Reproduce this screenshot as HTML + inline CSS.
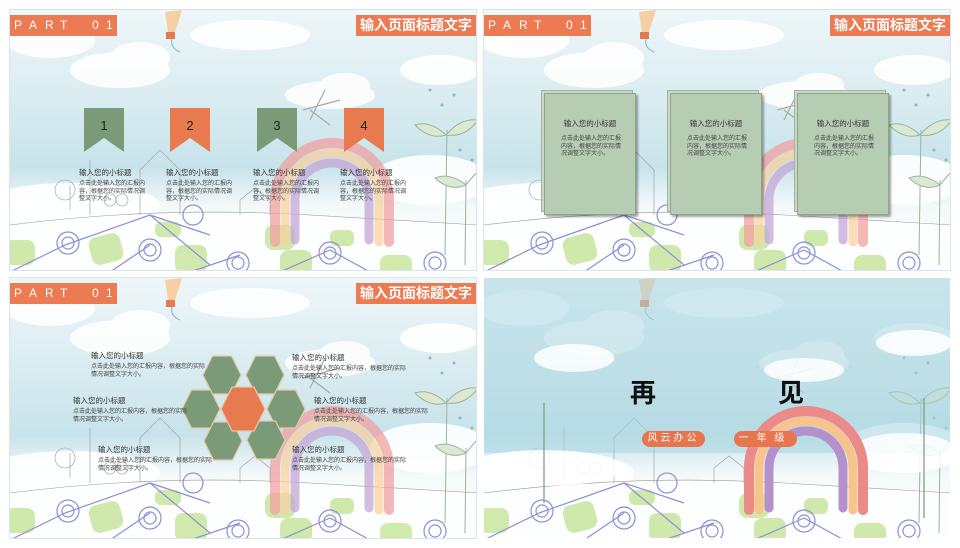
<!DOCTYPE html>
<html><head><meta charset="utf-8"><style>
*{margin:0;padding:0;box-sizing:border-box}
body{width:960px;height:548px;background:#fff;position:relative;overflow:hidden;font-family:"Liberation Sans","Noto Sans CJK SC",sans-serif}
.p{position:absolute;width:468px;height:262px;overflow:hidden;border:1px solid #d8e6ea}
.p svg.bg{position:absolute;left:0;top:0}
.a{position:absolute}
.part{left:0;top:5px;width:107px;height:21px;background:#ec7a52;color:#fff;font-size:12px;line-height:21px;white-space:nowrap}
.part span{position:absolute;top:0}
.tt{right:0;top:5px;width:120px;height:21px;background:#ec7a52;color:#fff;font-size:14px;font-weight:bold;line-height:21px;text-align:center}
.st{font-size:7.5px;color:#333;white-space:nowrap}
.bd{font-size:6px;color:#444;line-height:7.5px}
.card{position:absolute;width:92px;height:122px;background:#b6cdb4;border:1px solid #8da68b;box-shadow:2px 2px 2px rgba(0,0,0,.35)}
.card2{position:absolute;width:92px;height:122px;background:#c9d9c6;border:1px solid #9fb59c}
.card .st{position:absolute;left:0;right:0;top:24px;text-align:center}
.card .bd{position:absolute;left:16px;right:10px;top:42px}
.pill{position:absolute;height:16px;background:#e7764e;color:#fff;border-radius:8px;font-size:10px;line-height:16px;text-align:center;letter-spacing:3px}
</style></head><body>
<svg width="0" height="0" style="position:absolute">
<defs>
<linearGradient id="sky" x1="0" y1="0" x2="0" y2="1">
<stop offset="0" stop-color="#eef6f8"/><stop offset=".35" stop-color="#d9ecf1"/><stop offset=".6" stop-color="#c7e3ea"/><stop offset=".75" stop-color="#f4f9fa"/><stop offset="1" stop-color="#fbfdfd"/>
</linearGradient>
<g id="bg">
<rect width="468" height="262" fill="url(#sky)"/>
<g fill="#fff" opacity=".9">
<ellipse cx="110" cy="60" rx="50" ry="18"/><ellipse cx="130" cy="48" rx="30" ry="16"/>
<ellipse cx="320" cy="85" rx="45" ry="14"/><ellipse cx="335" cy="75" rx="25" ry="12"/>
<ellipse cx="430" cy="60" rx="40" ry="15"/><ellipse cx="40" cy="30" rx="45" ry="18"/>
<ellipse cx="240" cy="25" rx="60" ry="15"/>
<ellipse cx="60" cy="195" rx="90" ry="22"/><ellipse cx="420" cy="170" rx="60" ry="25"/>
</g>
<path d="M0 215 Q150 196 300 205 T468 215 L468 262 L0 262Z" fill="#fdfefe"/>
<path d="M0 215 Q150 196 300 205 T468 215" fill="none" stroke="#999" stroke-width=".6"/>
<g fill="#c8e6a0" opacity=".85">
<rect x="-5" y="230" width="30" height="25" rx="8"/><rect x="80" y="225" width="32" height="28" rx="8" transform="rotate(-15 96 239)"/>
<rect x="165" y="235" width="32" height="28" rx="8"/><rect x="255" y="215" width="30" height="25" rx="8"/>
<rect x="270" y="240" width="32" height="25" rx="8"/><rect x="370" y="245" width="32" height="25" rx="8"/>
<rect x="145" y="212" width="26" height="15" rx="6"/><rect x="320" y="220" width="24" height="16" rx="6"/>
</g>
<g fill="none" stroke="#8e8ed6" stroke-width="1.2">
<path d="M55 235 L0 262 M55 235 L140 205 M140 205 L200 255 M140 205 L200 225 M230 245 L180 262 M320 240 L270 262 M320 240 L360 262 M140 235 L100 262"/>
<circle cx="58" cy="233" r="11"/><circle cx="58" cy="233" r="6"/>
<circle cx="140" cy="240" r="11"/><circle cx="140" cy="240" r="6"/>
<circle cx="228" cy="253" r="11"/><circle cx="228" cy="253" r="6"/>
<circle cx="320" cy="243" r="11"/><circle cx="320" cy="243" r="6"/>
<circle cx="425" cy="253" r="11"/><circle cx="425" cy="253" r="6"/>
<circle cx="183" cy="205" r="10"/>
</g>
<g fill="none" stroke-linecap="round">
<path d="M265 232 L265 190 A57 57 0 0 1 379 190 L379 232" stroke="#f0a0a0" stroke-width="10" opacity=".75"/>
<path d="M275 232 L275 190 A47 47 0 0 1 369 190 L369 232" stroke="#f8d0a0" stroke-width="9" opacity=".75"/>
<path d="M285 230 L285 190 A37 37 0 0 1 359 190 L359 230" stroke="#c5a6d6" stroke-width="9" opacity=".75"/>
</g>
<g fill="none" stroke="#9bb49a" stroke-width="1">
<path d="M435 245 L437 120 M455 255 L456 170"/>
<path d="M436 125 Q420 110 405 115 Q420 130 436 125 Q450 108 468 110 Q455 128 436 125" fill="#dbe9d2"/>
<path d="M456 175 Q440 162 425 168 Q440 182 456 175 Q468 160 468 162" fill="#dbe9d2"/>
</g>
<g fill="#8fb3c0"><circle cx="420" cy="80" r="1.5"/><circle cx="432" cy="95" r="1.5"/><circle cx="444" cy="85" r="1.5"/><circle cx="450" cy="140" r="1.5"/><circle cx="462" cy="150" r="1.5"/></g>
<g fill="none" stroke="#999" stroke-width=".6">
<path d="M60 200 L60 175 M80 205 L80 150 M130 205 L130 160 L150 140 L170 160 L170 205"/>
<circle cx="55" cy="180" r="10"/><circle cx="100" cy="190" r="6"/><circle cx="112" cy="190" r="6"/>
<path d="M230 205 L230 190 L245 178 L260 190 L260 205"/>
<path d="M293 100 L330 90 M300 110 L315 80 M300 100 L320 115" stroke="#aaa" stroke-width="1.2"/>
</g>
<path d="M155 2 L172 0 L165 22 L158 22Z" fill="#f6cfa5"/><rect x="156" y="22" width="9" height="7" fill="#e47a50"/>
<path d="M162 29 Q160 38 170 42" fill="none" stroke="#7fb8c0"/>
</g>
</defs></svg>

<!-- Panel 1 -->
<div class="p" style="left:9px;top:9px">
<svg class="bg" width="468" height="262"><use href="#bg"/></svg>
<div class="a part"><span style="left:4px">P</span><span style="left:19px">A</span><span style="left:35px">R</span><span style="left:50px">T</span><span style="left:82px">0</span><span style="left:96px">1</span></div>
<div class="a tt">输入页面标题文字</div>
<svg class="a" style="left:0;top:0" width="468" height="262">
<path d="M74 98 H114 V142 L94 128 L74 142Z" fill="#7a9a78"/>
<path d="M160 98 H200 V142 L180 128 L160 142Z" fill="#e87a50"/>
<path d="M247 98 H287 V142 L267 128 L247 142Z" fill="#7a9a78"/>
<path d="M334 98 H374 V142 L354 128 L334 142Z" fill="#e87a50"/>
<g font-family="Liberation Sans,sans-serif" font-size="13" fill="#222" text-anchor="middle">
<text x="94" y="120">1</text><text x="180" y="120">2</text><text x="267" y="120">3</text><text x="354" y="120">4</text></g>
</svg>
<div class="a st" style="left:69px;top:157px">输入您的小标题</div>
<div class="a bd" style="left:69px;top:171px;width:66px">点击此处输入您的汇报内容，根据您的实际情况调整文字大小。</div>
<div class="a st" style="left:156px;top:157px">输入您的小标题</div>
<div class="a bd" style="left:156px;top:171px;width:66px">点击此处输入您的汇报内容，根据您的实际情况调整文字大小。</div>
<div class="a st" style="left:243px;top:157px">输入您的小标题</div>
<div class="a bd" style="left:243px;top:171px;width:66px">点击此处输入您的汇报内容，根据您的实际情况调整文字大小。</div>
<div class="a st" style="left:330px;top:157px">输入您的小标题</div>
<div class="a bd" style="left:330px;top:171px;width:66px">点击此处输入您的汇报内容，根据您的实际情况调整文字大小。</div>
</div>

<!-- Panel 2 -->
<div class="p" style="left:483px;top:9px">
<svg class="bg" width="468" height="262"><use href="#bg"/></svg>
<div class="a part"><span style="left:4px">P</span><span style="left:19px">A</span><span style="left:35px">R</span><span style="left:50px">T</span><span style="left:82px">0</span><span style="left:96px">1</span></div>
<div class="a tt">输入页面标题文字</div>
<div class="card2" style="left:57px;top:80px"></div><div class="card" style="left:60px;top:83px"><div class="st">输入您的小标题</div><div class="bd">点击此处输入您的汇报内容，根据您的实际情况调整文字大小。</div></div>
<div class="card2" style="left:183px;top:80px"></div><div class="card" style="left:186px;top:83px"><div class="st">输入您的小标题</div><div class="bd">点击此处输入您的汇报内容，根据您的实际情况调整文字大小。</div></div>
<div class="card2" style="left:310px;top:80px"></div><div class="card" style="left:313px;top:83px"><div class="st">输入您的小标题</div><div class="bd">点击此处输入您的汇报内容，根据您的实际情况调整文字大小。</div></div>
</div>

<!-- Panel 3 -->
<div class="p" style="left:9px;top:277px">
<svg class="bg" width="468" height="262"><use href="#bg"/></svg>
<div class="a part"><span style="left:4px">P</span><span style="left:19px">A</span><span style="left:35px">R</span><span style="left:50px">T</span><span style="left:82px">0</span><span style="left:96px">1</span></div>
<div class="a tt">输入页面标题文字</div>
<svg class="a" style="left:0;top:0" width="468" height="262">
<g stroke="#e8c8a8" stroke-width="1.2" fill="#7a9a78">
<polygon points="193,97 202.5,78 221.5,78 231,97 221.5,116 202.5,116"/>
<polygon points="236,97 245.5,78 264.5,78 274,97 264.5,116 245.5,116"/>
<polygon points="172,131 181.5,112 200.5,112 210,131 200.5,150 181.5,150"/>
<polygon points="257,131 266.5,112 285.5,112 295,131 285.5,150 266.5,150"/>
<polygon points="194,163 203.5,144 222.5,144 232,163 222.5,182 203.5,182"/>
<polygon points="237,162 246.5,143 265.5,143 275,162 265.5,181 246.5,181"/>
<polygon points="211,131 222,109 244,109 255,131 244,153 222,153" fill="#e87a50"/>
</g></svg>
<div class="a st" style="left:81px;top:72px">输入您的小标题</div>
<div class="a bd" style="left:81px;top:86px;width:115px">点击此处输入您的汇报内容，根据您的实际情况调整文字大小。</div>
<div class="a st" style="left:63px;top:117px">输入您的小标题</div>
<div class="a bd" style="left:63px;top:131px;width:115px">点击此处输入您的汇报内容，根据您的实际情况调整文字大小。</div>
<div class="a st" style="left:88px;top:166px">输入您的小标题</div>
<div class="a bd" style="left:88px;top:180px;width:115px">点击此处输入您的汇报内容，根据您的实际情况调整文字大小。</div>
<div class="a st" style="left:282px;top:74px">输入您的小标题</div>
<div class="a bd" style="left:282px;top:88px;width:115px">点击此处输入您的汇报内容，根据您的实际情况调整文字大小。</div>
<div class="a st" style="left:304px;top:117px">输入您的小标题</div>
<div class="a bd" style="left:304px;top:131px;width:115px">点击此处输入您的汇报内容，根据您的实际情况调整文字大小。</div>
<div class="a st" style="left:282px;top:166px">输入您的小标题</div>
<div class="a bd" style="left:282px;top:180px;width:115px">点击此处输入您的汇报内容，根据您的实际情况调整文字大小。</div>
</div>

<!-- Panel 4 -->
<div class="p" style="left:483px;top:277px;border-color:#fff">
<svg class="bg" width="468" height="262"><use href="#bg"/>
<rect width="468" height="175" fill="#a9d6e0" opacity=".55"/>
<g fill="#fff" opacity=".85"><ellipse cx="90" cy="80" rx="40" ry="14"/><ellipse cx="320" cy="92" rx="40" ry="12"/><ellipse cx="430" cy="65" rx="38" ry="13"/><ellipse cx="60" cy="190" rx="80" ry="18"/><ellipse cx="420" cy="175" rx="55" ry="20"/></g>
<g fill="none" stroke-linecap="round">
<path d="M265 232 L265 190 A57 57 0 0 1 379 190 L379 232" stroke="#ec8a8a" stroke-width="10"/>
<path d="M275 232 L275 190 A47 47 0 0 1 369 190 L369 232" stroke="#f7c48e" stroke-width="9"/>
<path d="M285 230 L285 190 A37 37 0 0 1 359 190 L359 230" stroke="#b591cc" stroke-width="9"/>
</g>
<path d="M60 125 L60 225 M440 120 L440 240" stroke="#7a9a78" stroke-width="1.2"/>
</svg>
<div class="a" style="left:146px;top:95px;font-size:26px;font-weight:bold;color:#111">再</div>
<div class="a" style="left:294px;top:95px;font-size:26px;font-weight:bold;color:#111">见</div>
<div class="pill" style="left:158px;top:153px;width:63px">风云办公</div>
<div class="pill" style="left:250px;top:153px;width:63px;letter-spacing:8px">一年级</div>
</div>
</body></html>
